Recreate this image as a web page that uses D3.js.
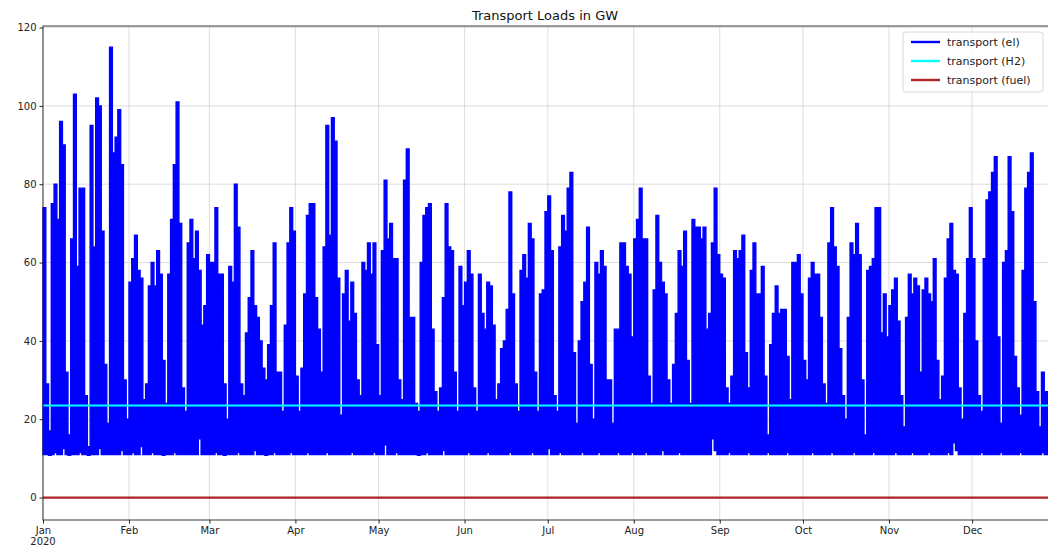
<!DOCTYPE html>
<html>
<head>
<meta charset="utf-8">
<script src="https://cdn.jsdelivr.net/npm/d3@7"></script>
<style>
  body { margin: 0; background: #fff; }
  svg { display: block; font-family: "DejaVu Sans", sans-serif; }
</style>
</head>
<body>
<div id="chart"></div>
<script>
// daily peak of the hourly electric transport load (GW), one array per month
const peakJan = [74,29,17,75,80,71,96,90,32,16,66,103,59,79,79,26,13,95,64,102,100,68,34,19,115,88,92,99,85,30,20];
const peakFeb = [55,61,67,58,56,25,29,54,60,54,63,57,35,24,57,71,85,101,70,28,22,65,71,61,68,58,44,49,62];
const peakMar = [60,60,74,57,57,29,20,59,55,80,69,29,26,42,51,63,49,46,40,33,30,39,49,65,32,32,22,44,65,74,68];
const peakApr = [31,22,33,52,72,75,75,51,43,32,64,95,67,97,91,56,21,52,58,45,55,47,30,26,60,58,65,57,65,39];
const peakMay = [26,63,81,66,70,61,61,30,25,81,89,46,46,24,22,60,72,74,75,43,27,22,28,51,75,64,63,32,22,59,49];
const peakJun = [55,63,57,28,22,57,47,43,55,54,44,25,29,38,40,48,78,52,29,22,58,62,56,70,66,32,22,52,53,73];
const peakJul = [77,63,26,22,64,72,68,79,83,37,19,40,50,55,69,34,20,60,57,63,59,30,30,19,43,43,65,65,59,57,41];
const peakAug = [66,71,79,66,66,31,24,53,72,60,55,52,30,24,34,47,63,59,68,35,24,71,69,69,66,69,43,47,65,79,62];
const peakSep = [57,56,28,24,31,63,61,63,67,37,28,58,65,52,52,59,31,16,39,47,54,47,48,48,36,25,60,60,62,52];
const peakOct = [35,30,56,60,57,57,46,29,24,65,74,64,59,38,26,20,46,65,62,70,62,30,16,58,59,61,74,74,42,52,41];
const peakNov = [49,53,56,45,26,18,46,57,52,56,54,32,53,56,52,50,61,35,25,31,56,66,70,58,57,28,20,47,61,74];
const peakDec = [61,40,26,22,61,76,78,83,87,41,19,60,63,87,73,36,28,21,58,79,83,88,50,27,18,32,27,27,26,27,26];

// daily minimum of the same series
const lowJan = [11,11,10.8,11,11.5,11,11,12.5,11,10.8,11,11,11,11.5,11,11,10.8,11,11,11,12.5,11,11,11,11,11,11,11,12,11,11];
const lowFeb = [11,11.5,11,11,13,11,11,11,11.5,11,11,11,10.8,11,11,11,11.5,11,11,11,11,11,11,11,11,15,11,11,11];
const lowMar = [11,11,11.5,11,11,10.8,11,11,11,11,11.5,11,11,11,11,11,12,11,11,11,10.8,11,11,11.5,11,11,11,11,11,11.5,11];
const lowApr = [11,11,11,11,11.5,11,11,11,11,11,11,11.5,11,11,11,11,11,11,11,11,11.5,11,11,11,11,11,11,11,11.5,11];
const lowMay = [11,11,13.5,11,11,11,11.5,11,11,11,11,11,11,11,10.8,11,11,11.5,11,11,11,11,11,12,11,11,11,11,11,11,11];
const lowJun = [11,11.5,11,11,11,11,11,11,11.5,11,11,11,11,11,11,11,11.5,11,11,11,11,11,11,11,11.5,11,11,11,11,11];
const lowJul = [12.5,11,11,11,11.5,11,11,11,11,11,11,11,11.5,11,11,11,11,11,11.5,11,11,11,11,11,11,11.5,11,11,11,11,11.5];
const lowAug = [11,11,11,11,11.5,11,11,11,11,11,12,11,11,11,11,11,11.5,11,11,11,11,11,11,11,11,11,11,11,15,12,11];
const lowSep = [11,11,11,11.5,11,11,11,11,11,11,11.5,11,11,11,11,11,11,11.5,11,11,11,11,11,11,11.5,11,11,11,11,11];
const lowOct = [11,11,11,11.5,11,11,11,11,11,11,11.5,11,11,11,11,11,11,11,11.5,11,11,11,11,11,11,11.5,11,11,11,11,11];
const lowNov = [11,11,11.5,11,11,11,11,11,11.5,11,11,11,11,11,11.5,11,11,11,11,11,11,11.5,11,14,12,11,11,11,11,11];
const lowDec = [11,11,11,11.5,11,11,11,11,11,11,11.5,11,11,11,11,11,11,11.5,11,11,11,11,11,11,11,11.5,11,11,11,11,11];

const h2Load = 23.5;     // transport (H2), flat all year
const fuelLoad = 0;      // transport (fuel)

const monthLabels = ["Jan","Feb","Mar","Apr","May","Jun","Jul","Aug","Sep","Oct","Nov","Dec"];
const yTicks = [0, 20, 40, 60, 80, 100, 120];
const seriesNames = ["transport (el)", "transport (H2)", "transport (fuel)"];
const seriesColors = ["#0000ff", "#00ffff", "#b22222"];

const peaks = [].concat(peakJan, peakFeb, peakMar, peakApr, peakMay, peakJun,
                        peakJul, peakAug, peakSep, peakOct, peakNov, peakDec);
const lows = [].concat(lowJan, lowFeb, lowMar, lowApr, lowMay, lowJun,
                       lowJul, lowAug, lowSep, lowOct, lowNov, lowDec);

const start = new Date(Date.UTC(2020, 0, 1));
const end = new Date(Date.UTC(2020, 11, 31, 23));

let data = peaks.map((p, i) => ({ time: new Date(Date.UTC(2020, 0, 1 + i)), hi: p, lo: lows[i] }));
data.push({ time: end, hi: peaks[peaks.length - 1], lo: lows[lows.length - 1] });

let W = 1048, H = 547;
let margin = {top: 26, left: 43, bottom: 27},
    plotW = 1015,
    plotH = H - margin.top - margin.bottom;

let svg = d3.select("#chart").append("svg")
    .attr("width", W).attr("height", H);

let x = d3.scaleUtc().domain([start, end]).range([margin.left, margin.left + plotW]);
let y = d3.scaleLinear().domain([-5.73, 120.4]).range([margin.top + plotH, margin.top]);

let monthTicks = d3.range(12).map(m => new Date(Date.UTC(2020, m, 1)));

// grid
let grid = svg.append("g").attr("stroke", "#d4d4d4").attr("stroke-width", 0.8);
grid.selectAll(".gx").data(monthTicks).join("line")
    .attr("x1", d => x(d)).attr("x2", d => x(d))
    .attr("y1", margin.top).attr("y2", margin.top + plotH);
grid.selectAll(".gy").data(yTicks).join("line")
    .attr("x1", margin.left).attr("x2", margin.left + plotW)
    .attr("y1", d => y(d)).attr("y2", d => y(d));

// transport (el): hourly swings between daily low and daily peak
svg.append("path")
    .datum(data)
    .attr("fill", seriesColors[0])
    .attr("stroke", seriesColors[0])
    .attr("stroke-width", 1.4)
    .attr("stroke-linejoin", "miter")
    .attr("d", d3.area()
        .curve(d3.curveStepAfter)
        .x(d => x(d.time))
        .y0(d => y(d.lo))
        .y1(d => y(d.hi)));

// transport (H2) and transport (fuel)
let flat = [[h2Load, seriesColors[1]], [fuelLoad, seriesColors[2]]];
flat.forEach(([v, c]) => {
    svg.append("path")
        .datum([start, end])
        .attr("fill", "none")
        .attr("stroke", c)
        .attr("stroke-width", 2.2)
        .attr("d", d3.line().x(d => x(d)).y(() => y(v)));
});

// frame
svg.append("rect")
    .attr("x", margin.left).attr("y", margin.top)
    .attr("width", plotW).attr("height", plotH)
    .attr("fill", "none").attr("stroke", "#222").attr("stroke-width", 0.9);

// axes
let xAxis = svg.append("g")
    .attr("transform", "translate(0," + (margin.top + plotH) + ")")
    .call(d3.axisBottom(x).tickValues(monthTicks).tickFormat((d, i) => monthLabels[i]).tickSize(3.5).tickPadding(3));
xAxis.select(".domain").remove();
xAxis.selectAll("text").attr("font-size", 10).attr("fill", "#222").attr("font-family", "DejaVu Sans");
xAxis.selectAll("line").attr("stroke", "#222");
svg.append("text")
    .attr("x", x(start)).attr("y", 545)
    .attr("text-anchor", "middle").attr("font-size", 10).attr("fill", "#222")
    .text("2020");

let yAxis = svg.append("g")
    .attr("transform", "translate(" + margin.left + ",0)")
    .call(d3.axisLeft(y).tickValues(yTicks).tickSize(3.5).tickPadding(3));
yAxis.select(".domain").remove();
yAxis.selectAll("text").attr("font-size", 10).attr("fill", "#222").attr("font-family", "DejaVu Sans");
yAxis.selectAll("line").attr("stroke", "#222");

// title
svg.append("text")
    .attr("x", 545).attr("y", 20)
    .attr("text-anchor", "middle").attr("font-size", 13).attr("fill", "#111")
    .text("Transport Loads in GW");

// legend
let lg = svg.append("g").attr("transform", "translate(903,32)");
lg.append("rect")
    .attr("width", 140).attr("height", 60).attr("rx", 3)
    .attr("fill", "#fff").attr("fill-opacity", 0.85)
    .attr("stroke", "#d8d8d8");
seriesNames.forEach((name, i) => {
    let row = lg.append("g").attr("transform", "translate(0," + (10 + i * 19) + ")");
    row.append("line")
        .attr("x1", 8).attr("x2", 37)
        .attr("stroke", seriesColors[i]).attr("stroke-width", 2.4);
    row.append("text")
        .attr("x", 44).attr("y", 4)
        .attr("font-size", 11).attr("fill", "#222")
        .text(name);
});
</script>
</body>
</html>
